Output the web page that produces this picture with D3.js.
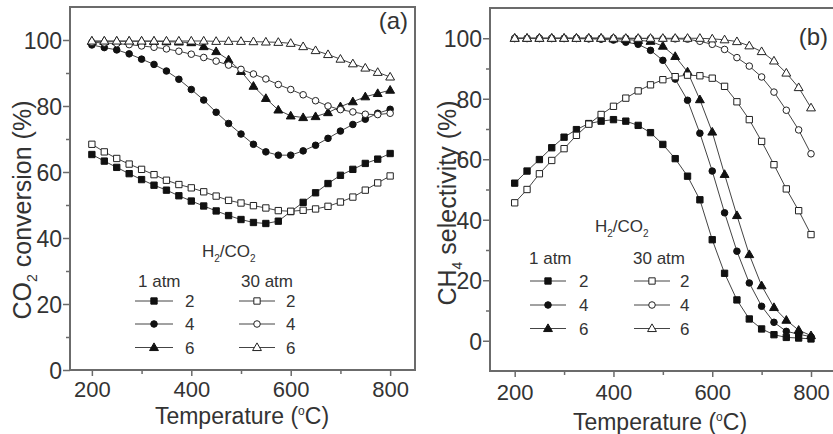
<!DOCTYPE html>
<html>
<head>
<meta charset="utf-8">
<script src="https://cdn.jsdelivr.net/npm/d3@7"></script>
<style>
  html, body { margin: 0; padding: 0; background: #fff; }
  svg { display: block; }
  text { font-family: "Liberation Sans", Arial, Helvetica, sans-serif; fill: #333; }
</style>
</head>
<body>
<svg id="chart" width="833" height="434"></svg>
<script>
// ---------- DATA ----------
const temps = [200,225,250,275,300,325,350,375,400,425,450,475,500,525,550,575,600,625,650,675,700,725,750,775,800];

// (a) CO2 conversion (%)
const convA_1atm_2  = [65.3,63.3,61.4,59.5,57.7,56.0,54.5,52.8,51.2,49.7,48.2,46.8,45.6,44.7,44.4,45.1,48.0,50.8,53.7,56.5,59.0,60.8,62.6,63.9,65.6];
const convA_1atm_4  = [98.5,97.7,97.0,95.8,94.2,92.6,90.6,88.1,85.0,81.8,78.1,74.7,71.5,68.4,66.1,65.1,65.1,66.4,68.1,70.2,72.4,74.4,76.0,77.8,79.0];
const convA_1atm_6  = [99.6,99.6,99.6,99.6,99.6,99.6,99.5,99.4,99.2,98.0,96.5,94.0,90.5,86.0,82.3,78.8,77.0,76.5,76.8,78.0,79.8,81.3,82.8,83.8,84.8];
const convA_30atm_2 = [68.4,66.1,64.1,62.4,60.8,59.2,57.5,56.2,55.2,54.0,52.7,51.4,50.6,49.8,49.1,48.3,48.1,48.4,48.8,49.6,50.9,52.4,54.5,56.7,58.8];
const convA_30atm_4 = [99.3,99.1,98.9,98.6,98.2,97.8,97.3,96.6,95.7,94.7,93.6,92.4,91.1,89.7,88.2,86.5,85.0,83.4,81.6,80.0,78.9,78.2,77.5,77.4,77.8];
const convA_30atm_6 = [99.7,99.7,99.7,99.7,99.7,99.7,99.7,99.7,99.7,99.7,99.6,99.6,99.6,99.5,99.4,99.3,99.0,98.0,96.8,95.6,94.2,92.8,91.5,90.2,88.8];

// (b) CH4 selectivity (%)
const selB_1atm_2  = [52.1,56.1,59.9,63.8,67.3,69.8,71.8,72.6,73.1,72.6,71.2,68.8,64.9,60.2,54.4,46.6,33.4,22.3,13.5,7.2,3.9,2.0,1.1,0.9,0.6];
const selB_1atm_4  = [99.9,99.9,99.9,99.9,99.9,99.9,99.8,99.7,99.4,98.7,98.0,96.0,92.7,86.5,79.5,68.6,56.1,42.3,29.6,19.1,11.4,6.1,3.1,2.2,1.3];
const selB_1atm_6  = [100,100,100,100,100,100,100,100,99.8,99.6,99.3,99.0,97.4,94.0,88.9,79.7,69.0,55.0,41.4,28.5,18.2,11.0,6.8,3.5,1.7];
const selB_30atm_2 = [45.6,50.0,55.2,59.6,63.5,67.9,71.6,74.8,77.5,80.2,82.6,84.6,86.3,87.3,87.8,87.6,86.8,84.1,79.0,73.1,65.9,58.2,50.2,43.0,35.1];
const selB_30atm_4 = [100,100,100,100,100,100,100,100,100,100,99.9,99.9,99.8,99.8,99.7,99.0,98.0,96.3,93.6,90.8,87.2,82.2,76.2,69.7,61.8];
const selB_30atm_6 = [100,100,100,100,100,100,100,100,100,100,100,100,100,100,100,100,99.8,99.5,98.9,97.5,95.6,92.5,88.5,83.7,77.0];

const xTicks = [200,400,600,800];
const xMinorTicks = [300,500,700];
const yTicks = [0,20,40,60,80,100];
const yMinorTicks = [10,30,50,70,90];
const ratios = ["2","4","6"];
const pressures = ["1 atm","30 atm"];

// ---------- DRAWING ----------
const svg = d3.select("#chart");
const LINE = "#444", FRAME = "#6b6b6b";

const shapes = { "2": d3.symbolSquare, "4": d3.symbolCircle, "6": d3.symbolTriangle };
const sizes  = { "2": 40, "4": 34, "6": 34 };

function marker(g, ratio, filled, x, y) {
  g.append("path")
    .attr("d", d3.symbol().type(shapes[ratio]).size(sizes[ratio])())
    .attr("transform", `translate(${x},${y + (ratio === "6" ? 0.5 : 0)})`)
    .attr("fill", filled ? "#111" : "#fff")
    .attr("stroke", filled ? "#111" : "#222")
    .attr("stroke-width", 1);
}

function panel(cfg) {
  const x = d3.scaleLinear().domain(cfg.xDomain).range(cfg.xRange);
  const y = d3.scaleLinear().domain(cfg.yDomain).range(cfg.yRange);
  const g = svg.append("g");

  cfg.series.forEach(s => {
    const pts = temps.map((t, i) => [x(t), y(s.values[i])]);
    g.append("path").attr("d", d3.line()(pts))
      .attr("fill", "none").attr("stroke", LINE).attr("stroke-width", 1);
    pts.forEach(p => marker(g, s.ratio, s.filled, p[0], p[1]));
  });

  // frame
  const [x0, x1] = cfg.xRange, [yb, yt] = cfg.yRange;
  g.append("rect").attr("x", x0).attr("y", yt).attr("width", x1 - x0).attr("height", yb - yt)
    .attr("fill", "none").attr("stroke", FRAME).attr("stroke-width", 2);

  // axes ticks
  const ax = g.append("g").attr("transform", `translate(0,${yb})`)
    .call(d3.axisBottom(x).tickValues(xTicks).tickSize(6).tickFormat(d3.format("d")));
  const axm = g.append("g").attr("transform", `translate(0,${yb})`)
    .call(d3.axisBottom(x).tickValues(xMinorTicks).tickSize(4).tickFormat(""));
  const ay = g.append("g").attr("transform", `translate(${x0},0)`)
    .call(d3.axisLeft(y).tickValues(yTicks).tickSize(7).tickPadding(1).tickFormat(d3.format("d")));
  const aym = g.append("g").attr("transform", `translate(${x0},0)`)
    .call(d3.axisLeft(y).tickValues(yMinorTicks).tickSize(4).tickFormat(""));
  [ax, axm, ay, aym].forEach(a => {
    a.select(".domain").remove();
    a.selectAll("line").attr("stroke", FRAME).attr("stroke-width", 1.5);
    a.selectAll("text").attr("font-size", 23).attr("fill", "#333")
      .attr("font-family", '"Liberation Sans", Arial, sans-serif');
  });
  ax.selectAll("text").attr("font-size", 22).attr("dy", "0").attr("y", cfg.xLabelBase);
  ay.selectAll("text").attr("dy", "0.36em");

  // x title
  const xt = g.append("text").attr("x", cfg.xTitleX).attr("y", cfg.xTitleY)
    .attr("text-anchor", "middle").attr("font-size", 23);
  xt.append("tspan").text("Temperature (");
  xt.append("tspan").text("o").attr("font-size", 12).attr("dy", -9);
  xt.append("tspan").text("C)").attr("dy", 9);

  // y title (rotated)
  const yt2 = g.append("text")
    .attr("transform", `translate(${cfg.yTitleX},${cfg.yTitleY}) rotate(-90)`)
    .attr("text-anchor", "middle").attr("font-size", 25);
  yt2.append("tspan").text(cfg.yTitle[0]);
  yt2.append("tspan").text(cfg.yTitle[1]).attr("font-size", 14).attr("dy", 6);
  yt2.append("tspan").text(cfg.yTitle[2]).attr("dy", -6);

  // panel label
  g.append("text").attr("x", cfg.labelX).attr("y", cfg.labelY)
    .attr("text-anchor", "end").attr("font-size", 24).text(cfg.label);

  // legend
  const L = cfg.legend;
  const h = g.append("text").attr("x", L.titleX).attr("y", L.titleY).attr("font-size", 17);
  h.append("tspan").text("H");
  h.append("tspan").text("2").attr("font-size", 10).attr("dy", 5);
  h.append("tspan").text("/CO").attr("dy", -5);
  h.append("tspan").text("2").attr("font-size", 10).attr("dy", 5);
  pressures.forEach((p, c) => {
    g.append("text").attr("x", L.colX[c]).attr("y", L.headY).attr("font-size", 17).text(p);
    ratios.forEach((r, k) => {
      const yy = L.rowY[k];
      g.append("line").attr("x1", L.lineX[c][0]).attr("x2", L.lineX[c][1])
        .attr("y1", yy).attr("y2", yy).attr("stroke", LINE).attr("stroke-width", 1);
      marker(g, r, c === 0, (L.lineX[c][0] + L.lineX[c][1]) / 2, yy);
      g.append("text").attr("x", L.numX[c]).attr("y", yy).attr("dy", "0.36em")
        .attr("font-size", 17).text(r);
    });
  });
}

panel({
  xDomain: [156, 850], xRange: [70, 415],
  yDomain: [0, 110], yRange: [370, 7],
  xLabelBase: 27, xTitleX: 242, xTitleY: 424,
  yTitle: ["CO", "2", " conversion (%)"], yTitleX: 31, yTitleY: 210,
  label: "(a)", labelX: 408, labelY: 29,
  series: [
    { values: convA_1atm_2,  ratio: "2", filled: true },
    { values: convA_1atm_4,  ratio: "4", filled: true },
    { values: convA_1atm_6,  ratio: "6", filled: true },
    { values: convA_30atm_2, ratio: "2", filled: false },
    { values: convA_30atm_4, ratio: "4", filled: false },
    { values: convA_30atm_6, ratio: "6", filled: false }
  ],
  legend: {
    titleX: 202, titleY: 257, headY: 287, colX: [138, 241],
    rowY: [301, 324, 347.5],
    lineX: [[135, 173], [239, 275]], numX: [185, 286]
  }
});

panel({
  xDomain: [150, 850], xRange: [490, 835.7],
  yDomain: [-10, 110], yRange: [371, 8],
  xLabelBase: 29, xTitleX: 660, xTitleY: 430,
  yTitle: ["CH", "4", " selectivity (%)"], yTitleX: 456, yTitleY: 203,
  label: "(b)", labelX: 828, labelY: 45,
  series: [
    { values: selB_1atm_2,  ratio: "2", filled: true },
    { values: selB_1atm_4,  ratio: "4", filled: true },
    { values: selB_1atm_6,  ratio: "6", filled: true },
    { values: selB_30atm_2, ratio: "2", filled: false },
    { values: selB_30atm_4, ratio: "4", filled: false },
    { values: selB_30atm_6, ratio: "6", filled: false }
  ],
  legend: {
    titleX: 595, titleY: 232, headY: 264, colX: [529, 633],
    rowY: [281, 305, 328.5],
    lineX: [[530, 566], [634, 670]], numX: [579, 680]
  }
});
</script>
</body>
</html>
